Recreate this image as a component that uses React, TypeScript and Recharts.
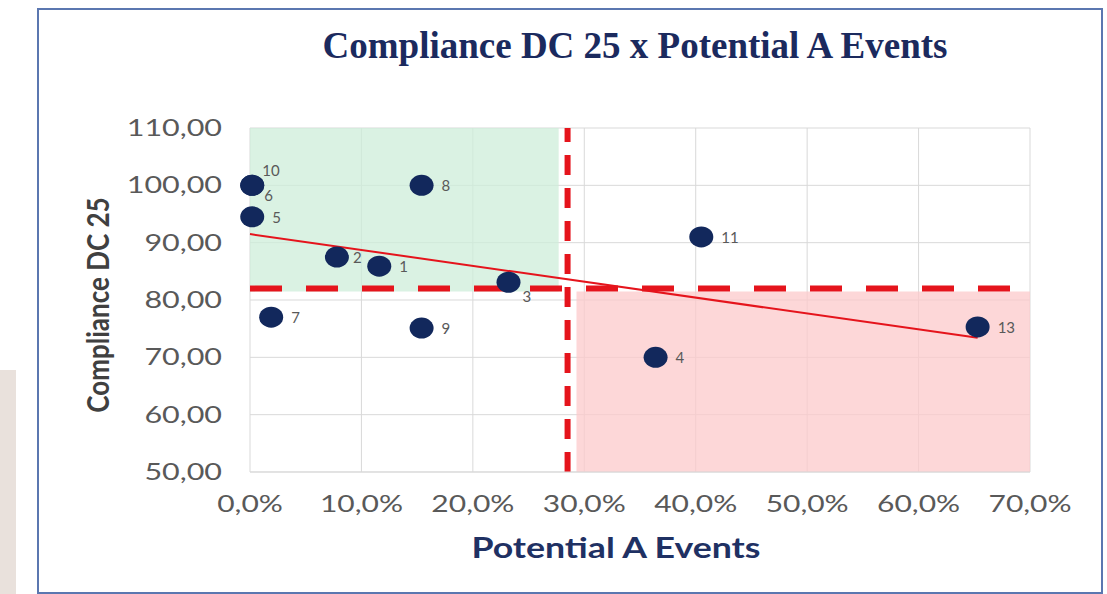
import React from 'react'
import { ScatterChart, Scatter, XAxis, YAxis, CartesianGrid, ReferenceArea, ReferenceLine } from 'recharts'

// one entry per unit
const pointIds = ['2', '1', '3', '4', '5', '6', '7', '8', '9', '10', '11', '13']
const potentialA = [7.8, 11.6, 23.2, 36.4, 0.2, 0.2, 1.9, 15.4, 15.4, 0.2, 40.5, 65.3]
const compliance = [87.5, 85.9, 83.1, 70.0, 94.5, 100, 77.0, 100, 75.1, 100, 91.0, 75.3]

const xTicks = [0, 10, 20, 30, 40, 50, 60, 70]
const yTicks = [50, 60, 70, 80, 90, 100, 110]

// thresholds and linear trend
const xLimit = 28.5
const yLimit = 82
const trendStart = { x: 0, y: 91.5 }
const trendEnd = { x: 65.3, y: 73.4 }

const data = pointIds.map((id, i) => ({ id, x: potentialA[i], y: compliance[i] }))

// label placement tweaks so overlapping labels read like the original
const labelShift: Record<string, [number, number]> = {
  '10': [10, -9],
  '6': [12, 16],
  '3': [14, 20],
  '2': [16, 6],
}

const navy = '#12285c'
const red = '#e5141c'
const tickFont = 'Lato, sans-serif'

function Dot(props: any) {
  const { cx, cy, payload } = props
  const [dx, dy] = labelShift[payload.id] ?? [20, 6]
  return (
    <g>
      <ellipse cx={cx} cy={cy} rx={12} ry={10.5} fill={navy} />
      <text x={cx + dx} y={cy + dy} fontSize={15} fill="#595959" fontFamily={tickFont}>
        {payload.id}
      </text>
    </g>
  )
}

const fmtX = (v: number) => `${v.toFixed(1).replace('.', ',')}%`
const fmtY = (v: number) => v.toFixed(2).replace('.', ',')

// the source image is stretched sideways, so ticks get a horizontal scale
function XTick({ x, y, payload }: any) {
  return (
    <text
      transform={`translate(${x},${y + 40}) scale(1.25,1)`}
      textAnchor="middle"
      fontSize={24}
      fill="#595959"
      fontFamily={tickFont}
    >
      {fmtX(payload.value)}
    </text>
  )
}

function YTick({ x, y, payload }: any) {
  return (
    <text
      transform={`translate(${x - 28},${y + 8}) scale(1.27,1)`}
      textAnchor="end"
      fontSize={24}
      fill="#595959"
      fontFamily={tickFont}
    >
      {fmtY(payload.value)}
    </text>
  )
}

export default function App() {
  return (
    <div style={{ position: 'fixed', left: 0, top: 0, width: 1107, height: 594, background: '#fff', overflow: 'hidden' }}>
      <div style={{ position: 'absolute', left: 0, top: 370, width: 16, height: 224, background: '#e9e1dc' }} />
      <div
        style={{
          position: 'absolute',
          left: 37,
          top: 8,
          width: 1062,
          height: 582,
          border: '2px solid #5b77b0',
          background: '#fff',
        }}
      />
      <div
        style={{
          position: 'absolute',
          left: 0,
          width: 1270,
          top: 24,
          textAlign: 'center',
          fontFamily: '"Liberation Serif", serif',
          fontWeight: 'bold',
          fontSize: 37,
          color: '#1b2a5e',
        }}
      >
        Compliance DC 25 x Potential A Events
      </div>
      <div style={{ position: 'absolute', left: 0, top: 0 }}>
        <ScatterChart width={1107} height={594} margin={{ top: 128, right: 77, bottom: 72, left: 130 }}>
          <CartesianGrid stroke="#d9d9d9" />
          <ReferenceArea x1={0} x2={xLimit - 0.8} y1={yLimit - 0.5} y2={110} fill="#cdeed9" fillOpacity={0.75} stroke="none" />
          <ReferenceArea x1={xLimit + 0.8} x2={70} y1={50} y2={yLimit - 0.5} fill="#fcc9cb" fillOpacity={0.75} stroke="none" />
          <XAxis
            type="number"
            dataKey="x"
            domain={[0, 70]}
            ticks={xTicks}
            height={50}
            tickSize={0}
            tickMargin={0}
            axisLine={{ stroke: '#d9d9d9' }}
            tick={XTick}
          />
          <YAxis
            type="number"
            dataKey="y"
            domain={[50, 110]}
            ticks={yTicks}
            width={120}
            tickSize={0}
            tickMargin={0}
            axisLine={false}
            tick={YTick}
          />
          <ReferenceLine x={xLimit} stroke={red} strokeWidth={6} strokeDasharray="20 13" />
          <ReferenceLine y={yLimit} stroke={red} strokeWidth={6} strokeDasharray="32 24" />
          <ReferenceLine segment={[trendStart, trendEnd]} stroke={red} strokeWidth={2} />
          <Scatter data={data} shape={Dot} isAnimationActive={false} />
        </ScatterChart>
      </div>
      <div
        style={{
          position: 'absolute',
          left: 226,
          width: 780,
          top: 529,
          textAlign: 'center',
          fontFamily: 'Lato, sans-serif',
          fontWeight: 'bold',
          fontSize: 29,
          color: '#1f3163',
          transform: 'scaleX(1.23)',
        }}
      >
        Potential A Events
      </div>
      <div
        style={{
          position: 'absolute',
          left: 97,
          top: 305,
          transform: 'translate(-50%, -50%) rotate(-90deg) scaleY(1.15)',
          whiteSpace: 'nowrap',
          fontFamily: 'Lato, sans-serif',
          fontWeight: 'bold',
          fontSize: 26,
          color: '#404040',
        }}
      >
        Compliance DC 25
      </div>
    </div>
  )
}
